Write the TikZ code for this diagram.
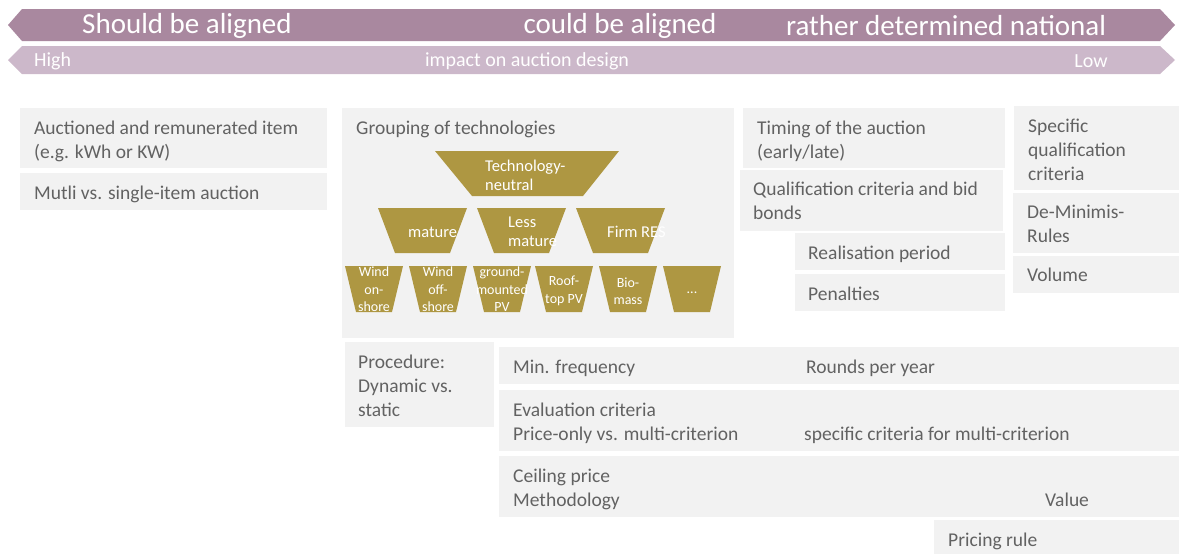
\documentclass[tikz,border=0pt]{standalone}
\usepackage{fontspec}
\setmainfont{Carlito}
\definecolor{hdark}{HTML}{A9889F}
\definecolor{hlight}{HTML}{CCB8CA}
\definecolor{boxg}{HTML}{F2F2F2}
\definecolor{txtg}{HTML}{626262}
\definecolor{gold}{HTML}{AE9742}
\tikzset{
  gbox/.style={fill=boxg, draw=none, anchor=north west, inner sep=0pt},
  txt/.style={text=txtg, font=\fontsize{19.5}{24}\selectfont, align=left, inner sep=0pt, anchor=north west},
  htxt/.style={text=white, font=\fontsize{29}{32}\selectfont, inner sep=0pt},
  stxt/.style={text=white, font=\fontsize{20}{22}\selectfont, inner sep=0pt},
  trap/.style={fill=gold, draw=none},
  ttxt/.style={text=white, font=\fontsize{16.5}{19}\selectfont, align=left, inner sep=0pt},
  ltxt/.style={text=white, font=\fontsize{14}{17.5}\selectfont, align=center, inner sep=0pt},
}
\begin{document}
\begin{tikzpicture}[x=1pt,y=-1pt]
\useasboundingbox (0,0) rectangle (1183,554);
% header arrows
\path[fill=hdark] (22,9) -- (1160,9) -- (1175,25) -- (1160,41) -- (22,41) -- (8,25) -- cycle;
\path[fill=hlight] (22,46) -- (1160,46) -- (1175,60) -- (1160,74) -- (22,74) -- (8,60) -- cycle;
\node[htxt] (h1) at (187,26) {Should be aligned};
\node[htxt] (h2) at (620,26) {could be aligned};
\node[htxt] (h3) at (946,26) {rather determined national};
\node[stxt, anchor=west] (s1) at (34,61) {High};
\node[stxt] (s2) at (527,61) {impact on auction design};
\node[stxt] (s3) at (1091,61) {Low};
% left column
\node[gbox, minimum width=307, minimum height=60] (a1) at (20,108) {};
\node[txt] (a1t) at (34,121) {Auctioned and remunerated item\\(e.g. kWh or KW)};
\node[gbox, minimum width=307, minimum height=37] (a2) at (20,173) {};
\node[txt] (a2t) at (34,186) {Mutli vs. single-item auction};
% grouping
\node[gbox, minimum width=392, minimum height=230] (g) at (342,108) {};
\node[txt] (gt) at (356,121) {Grouping of technologies};
\path[trap] (435,151) -- (619,151) -- (583,196) -- (472,196) -- cycle;
\node[ttxt, anchor=north west] (tn) at (485,160) {Technology-\\neutral};
\path[trap] (378,208) -- (467,208) -- (450,253) -- (395,253) -- cycle;
\path[trap] (477,208) -- (566,208) -- (549,253) -- (494,253) -- cycle;
\path[trap] (576,208) -- (665,208) -- (648,253) -- (593,253) -- cycle;
\node[ttxt, anchor=west] (m1) at (408,232) {mature};
\node[ttxt, anchor=west] (m2) at (508,232) {Less\\mature};
\node[ttxt, anchor=west] (m3) at (607,232) {Firm RES};
\foreach \i/\x in {1/345,2/409,3/473,4/535,5/599,6/663}{
  \path[trap] (\x,266) -- (\x+58,266) -- (\x+47,312) -- (\x+11,312) -- cycle;
}
\begin{scope}
\clip (340,260) rectangle (730,312);
\node[ltxt, anchor=north] (l1) at (374,267) {Wind\\on-\\shore};
\node[ltxt, anchor=north] (l2) at (438,267) {Wind\\off-\\shore};
\node[ltxt, anchor=north] (l3) at (502,267) {ground-\\mounted\\PV};
\end{scope}
\node[ltxt] (l4) at (564,291) {Roof-\\top PV};
\node[ltxt] (l5) at (628,291) {Bio-\\mass};
\node[ltxt] (l6) at (692,293) {...};
% middle right column
\node[gbox, minimum width=262, minimum height=60] (b1) at (743,108) {};
\node[txt] (b1t) at (757,121) {Timing of the auction\\(early/late)};
\node[gbox, minimum width=263, minimum height=61] (b2) at (740,170) {};
\node[txt] (b2t) at (753,182) {Qualification criteria and bid\\bonds};
\node[gbox, minimum width=210, minimum height=37] (b3) at (795,233) {};
\node[txt] (b3t) at (808,246) {Realisation period};
\node[gbox, minimum width=210, minimum height=37] (b4) at (795,274) {};
\node[txt] (b4t) at (808,287) {Penalties};
% right column
\node[gbox, minimum width=165, minimum height=84] (c1) at (1014,106) {};
\node[txt] (c1t) at (1028,119) {Specific\\qualification\\criteria};
\node[gbox, minimum width=166, minimum height=60] (c2) at (1013,193) {};
\node[txt] (c2t) at (1027,205) {De-Minimis-\\Rules};
\node[gbox, minimum width=166, minimum height=37] (c3) at (1013,256) {};
\node[txt] (c3t) at (1027,268) {Volume};
% bottom
\node[gbox, minimum width=149, minimum height=85] (d1) at (345,342) {};
\node[txt] (d1t) at (358,355) {Procedure:\\Dynamic vs.\\static};
\node[gbox, minimum width=680, minimum height=37] (e1) at (499,347) {};
\node[txt] (e1t) at (513,360) {Min. frequency};
\node[txt] (e1u) at (806,360) {Rounds per year};
\node[gbox, minimum width=680, minimum height=61] (e2) at (499,390) {};
\node[txt] (e2t) at (513,403) {Evaluation criteria\\Price-only vs. multi-criterion};
\node[txt] (e2u) at (804,427) {specific criteria for multi-criterion};
\node[gbox, minimum width=680, minimum height=61] (e3) at (499,456) {};
\node[txt] (e3t) at (513,469) {Ceiling price\\Methodology};
\node[txt] (e3u) at (1045,493) {Value};
\node[gbox, minimum width=245, minimum height=34] (e4) at (934,520) {};
\node[txt] (e4t) at (948,533) {Pricing rule};
\end{tikzpicture}
\end{document}
